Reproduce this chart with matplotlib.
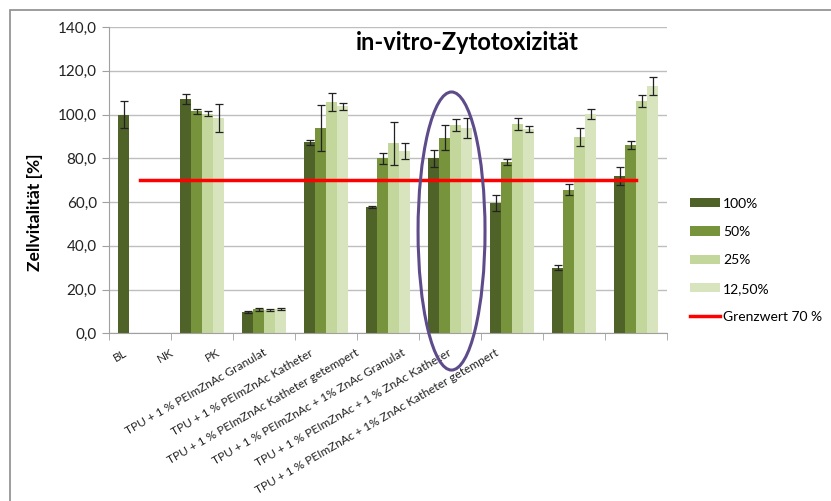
import numpy as np
import matplotlib
matplotlib.use("Agg")
import matplotlib.pyplot as plt
from matplotlib.patches import Ellipse, Rectangle, Patch
from matplotlib.lines import Line2D

plt.rcParams['font.family'] = ['Lato', 'DejaVu Sans']

categories = ["BL", "NK", "PK",
              "TPU + 1 % PEImZnAc Granulat",
              "TPU + 1 % PEImZnAc Katheter",
              "TPU + 1 % PEImZnAc Katheter getempert",
              "TPU + 1 % PEImZnAc + 1% ZnAc Granulat",
              "TPU + 1 % PEImZnAc + 1 % ZnAc Katheter",
              "TPU + 1 % PEImZnAc + 1% ZnAc Katheter getempert"]
series_names = ["100%", "50%", "25%", "12,50%"]
v100 = [100.0, 107.1, 9.8, 87.3, 57.7, 80.0, 59.4, 30.0, 72.1]
e100 = [6.0, 2.5, 0.3, 1.1, 0.5, 3.9, 3.6, 1.0, 4.1]
v50 = [np.nan, 101.5, 11.0, 93.7, 80.0, 89.4, 78.2, 65.7, 86.1]
e50 = [np.nan, 1.2, 0.6, 10.5, 2.4, 5.8, 1.5, 2.4, 1.9]
v25 = [np.nan, 100.4, 10.7, 105.6, 86.8, 95.2, 95.5, 89.9, 106.2]
e25 = [np.nan, 1.3, 0.6, 4.2, 9.9, 2.8, 2.7, 4.1, 2.7]
v12 = [np.nan, 98.3, 11.1, 103.7, 83.3, 93.7, 93.4, 100.2, 113.0]
e12 = [np.nan, 6.3, 0.5, 1.7, 3.6, 4.6, 1.3, 2.1, 4.0]
grenzwert = [70, 70, 70, 70, 70, 70, 70, 70, 70]
grenz_label = "Grenzwert 70 %"
title = "in-vitro-Zytotoxizität"
ylabel = "Zellvitalität [%]"
yticks = [0, 20, 40, 60, 80, 100, 120, 140]

colors = ["#4F6228", "#77933C", "#C3D69B", "#D7E4BD"]

fig = plt.figure(figsize=(8.31, 5.01), dpi=100)
W, H = 831, 501
ax = fig.add_axes([109.3 / W, 1 - 333.3 / H, (667.3 - 109.3) / W, (333.3 - 27) / H])

x = np.arange(len(categories))
bw = 0.179
vals = [v100, v50, v25, v12]
errs = [e100, e50, e25, e12]
for k in range(4):
    xs = x - 2 * bw + bw * (k + 0.5)
    ax.bar(xs, vals[k], width=bw, color=colors[k], zorder=2, label=series_names[k])
    ax.errorbar(xs, vals[k], yerr=errs[k], fmt='none', ecolor='#222222',
                elinewidth=0.9, capsize=3, capthick=0.9, zorder=3)

ax.plot(x, grenzwert, color='#FF0000', lw=2.5, zorder=4, label=grenz_label)

ell = Ellipse((5.02, 46.75), width=1.08, height=127.1, fill=False,
              edgecolor='#5E4B8A', lw=2.2, zorder=5, clip_on=False)
ax.add_patch(ell)

ax.set_xlim(-0.5, len(categories) - 0.5)
ax.set_ylim(0, 140)
ax.set_yticks(yticks)
ax.set_yticklabels([f"{t:.1f}".replace('.', ',') for t in yticks], fontsize=11, color='#222222')
ax.yaxis.grid(True, color='#BEBEBE', lw=1, zorder=0)
ax.set_axisbelow(True)
for s in ['top', 'right']:
    ax.spines[s].set_visible(False)
for s in ['left', 'bottom']:
    ax.spines[s].set_color('#A0A0A0')
ax.tick_params(axis='y', length=5, color='#A0A0A0', pad=4)

label_pos = -0.27 + 0.748 * x
ax.set_xticks(label_pos)
ax.set_xticklabels(categories, rotation=30, ha='right', rotation_mode='anchor',
                   fontsize=8.6, color='#222222')
ax.tick_params(axis='x', which='major', length=0, pad=10)
ax.set_xticks(np.arange(-0.5, len(categories)), minor=True)
ax.tick_params(axis='x', which='minor', length=5, color='#A0A0A0')

fig.text(467 / W, 1 - 43 / H, title, ha='center', va='center', fontsize=17, fontweight='bold')
fig.text(35 / W, 1 - 212 / H, ylabel, rotation=90, ha='center', va='center',
         fontsize=12.5, fontweight='bold')

handles = [Patch(facecolor=c, edgecolor='none') for c in colors]
handles.append(Line2D([], [], color='#FF0000', lw=2.5))
fig.legend(handles, series_names + [grenz_label], loc='upper left',
           bbox_to_anchor=(677 / W, 1 - 185 / H), frameon=False, fontsize=10,
           handlelength=2.2, handleheight=0.65, handletextpad=0.2, labelspacing=1.18)

fig.add_artist(Rectangle((9.5 / W, -0.1), 1.2, 1 - 9.5 / H + 0.1, transform=fig.transFigure,
                         fill=False, edgecolor='#8C8C8C', lw=1.2))

fig.savefig("out.png", dpi=100)
